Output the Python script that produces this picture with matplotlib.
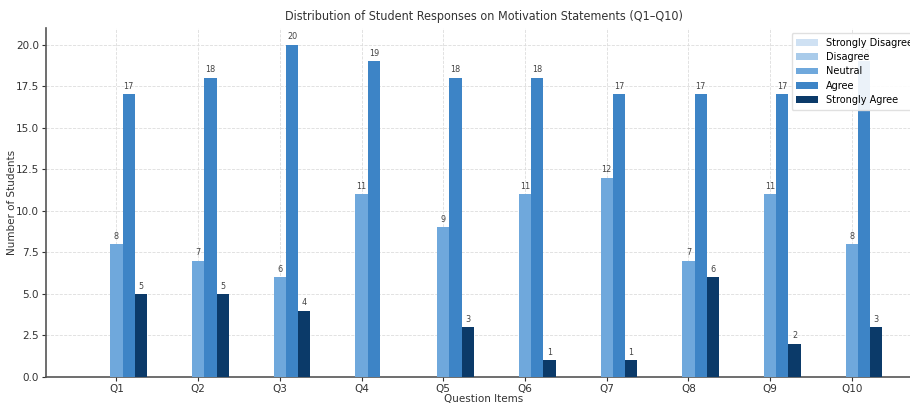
import matplotlib
matplotlib.use("Agg")
import matplotlib.pyplot as plt
import numpy as np

questions = ["Q1", "Q2", "Q3", "Q4", "Q5", "Q6", "Q7", "Q8", "Q9", "Q10"]
categories = ["Strongly Disagree", "Disagree", "Neutral", "Agree", "Strongly Agree"]
strongly_disagree = [0, 0, 0, 0, 0, 0, 0, 0, 0, 0]
disagree = [0, 0, 0, 0, 0, 0, 0, 0, 0, 0]
neutral = [8, 7, 6, 11, 9, 11, 12, 7, 11, 8]
agree = [17, 18, 20, 19, 18, 18, 17, 17, 17, 19]
strongly_agree = [5, 5, 4, 0, 3, 1, 1, 6, 2, 3]
series = [strongly_disagree, disagree, neutral, agree, strongly_agree]
colors = ["#cfe1f3", "#a9cbea", "#6fa8dc", "#3d84c6", "#0b3a69"]

plt.rcParams["font.family"] = ["DejaVu Sans"]
fig = plt.figure(figsize=(9.10, 4.05), dpi=100)
ax = fig.add_axes([0.0505, 0.069, 0.963, 0.862])

x = np.arange(len(questions))
width = 0.15
for i, (name, vals, col) in enumerate(zip(categories, series, colors)):
    pos = x + (i - 2) * width
    bars = ax.bar(pos, vals, width, label=name, color=col, zorder=3)
    for b, v in zip(bars, vals):
        if v > 0:
            ax.text(b.get_x() + b.get_width() / 2, v + 0.2, str(v),
                    ha="center", va="bottom", fontsize=6.5, color="#444444",
                    fontstretch="condensed")

ax.set_xticks(x)
ax.set_xticklabels(questions)
ax.set_ylim(0, 21)
ax.set_yticks(np.arange(0, 20.1, 2.5))
ax.set_yticklabels([f"{t:.1f}" for t in np.arange(0, 20.1, 2.5)])
ax.tick_params(labelsize=7.5, colors="#333333", length=3, pad=2)

ax.grid(True, linestyle="--", linewidth=0.6, color="#dddddd", zorder=0)
for side in ["top", "right"]:
    ax.spines[side].set_visible(False)
for side in ["left", "bottom"]:
    ax.spines[side].set_color("#555555")
    ax.spines[side].set_linewidth(1.2)

ax.set_title("Distribution of Student Responses on Motivation Statements (Q1–Q10)",
             fontsize=9, color="#333333", pad=6, fontstretch="condensed")
ax.set_xlabel("Question Items", fontsize=7.5, color="#333333", labelpad=0)
ax.set_ylabel("Number of Students", fontsize=7.5, color="#333333", labelpad=-1)

leg = ax.legend(loc="upper right", fontsize=7, frameon=True, framealpha=0.9,
                handlelength=2.2, borderpad=0.5, labelspacing=0.45)
leg.get_frame().set_edgecolor("#dddddd")

fig.savefig("out.png", dpi=100)
